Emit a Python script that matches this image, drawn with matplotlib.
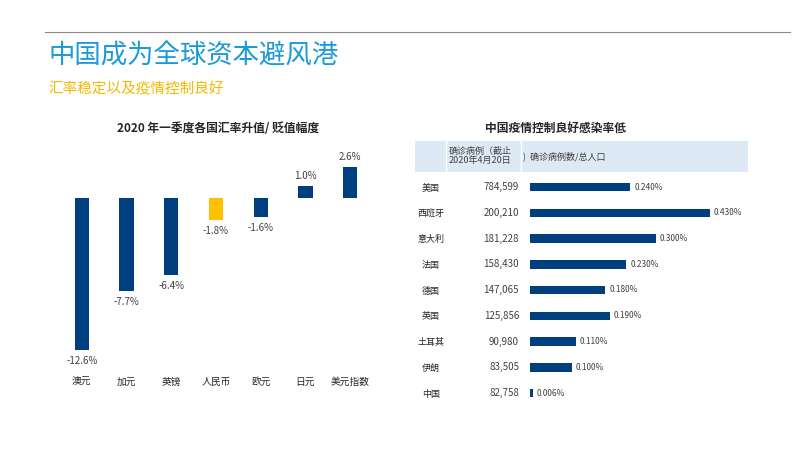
import numpy as np
import matplotlib.pyplot as plt
from matplotlib import font_manager

names = {f.name for f in font_manager.fontManager.ttflist}
cjk = [n for n in ['Noto Sans CJK SC', 'Noto Sans CJK JP', 'Noto Sans CJK TC', 'Noto Sans CJK KR'] if n in names]
plt.rcParams['font.family'] = cjk + ['DejaVu Sans']

# 左图：汇率升值/贬值幅度
currencies = ['澳元', '加元', '英镑', '人民币', '欧元', '日元', '美元指数']
fx_change = [-12.6, -7.7, -6.4, -1.8, -1.6, 1.0, 2.6]

# 右图：确诊病例与感染率
countries = ['美国', '西班牙', '意大利', '法国', '德国', '英国', '土耳其', '伊朗', '中国']
cases = [784599, 200210, 181228, 158430, 147065, 125856, 90980, 83505, 82758]
infect_rate = [0.240, 0.430, 0.300, 0.230, 0.180, 0.190, 0.110, 0.100, 0.006]

W, H = 800, 450
fig = plt.figure(figsize=(8, 4.5), dpi=100)

def fx(px):
    return px / W

def fy(py):
    return 1 - py / H

# 顶部线与标题
fig.add_artist(plt.Line2D([fx(45), fx(790)], [fy(32), fy(32)], color='#888888', lw=0.8))
fig.text(fx(48), fy(56), '中国成为全球资本避风港', fontsize=19, color='#1a9ad6', va='center')
fig.text(fx(48), fy(89), '汇率稳定以及疫情控制良好', fontsize=10.5, color='#f5b800',
         va='center', style='italic')

# 左图
ax = fig.add_axes([fx(55), fy(395), fx(322), fy(155) - fy(395)])
colors = ['#ffc000' if c == '人民币' else '#003f7f' for c in currencies]
x = np.arange(len(currencies))
ax.bar(x, fx_change, width=0.32, color=colors)
for xi, v in zip(x, fx_change):
    off = 0.4 if v > 0 else -0.5
    ax.text(xi, v + off, f'{v:.1f}%', ha='center', va='bottom' if v > 0 else 'top',
            fontsize=7, color='#404040')
ax.set_ylim(-16.3, 3.57)
ax.set_xlim(-0.6, len(currencies) - 0.4)
ax.set_xticks([])
ax.set_yticks([])
for s in ax.spines.values():
    s.set_visible(False)
for xi, c in zip(x, currencies):
    ax.text(xi, -15.2, c, ha='center', va='center', fontsize=7, color='#262626')
fig.text(fx(218), fy(128), '2020 年一季度各国汇率升值/ 贬值幅度', fontsize=8.5,
         fontweight='bold', style='italic', color='#262626', ha='center', va='center')

# 右图
ax2 = fig.add_axes([fx(415), fy(405), fx(748) - fx(415), fy(141) - fy(405)])
ax2.set_xlim(415, 748)
ax2.set_ylim(405, 141)
ax2.axis('off')
ax2.add_patch(plt.Rectangle((415, 141), 333, 31, color='#ddeaf5', lw=0))
ax2.plot([446, 446], [141, 172], color='white', lw=1)
ax2.plot([521, 521], [141, 172], color='white', lw=1)
ax2.text(449, 156, '确诊病例（截止\n2020年4月20日', fontsize=6.5, va='center', color='#404040',
         linespacing=1.1)
ax2.text(523, 156, ')  确诊病例数/总人口', fontsize=6.5, va='center', color='#404040')
fig.text(fx(555), fy(128), '中国疫情控制良好感染率低', fontsize=8.5, fontweight='bold',
         style='italic', color='#262626', ha='center', va='center')

rows = np.linspace(187, 393, len(countries))
scale = 180 / 0.43
ax2.barh(rows, np.array(infect_rate) * scale, left=530, height=8.5, color='#003f7f')
for r, c, n, v in zip(rows, countries, cases, infect_rate):
    ax2.text(431, r + 1, c, ha='center', va='center', fontsize=6.5, color='#262626')
    ax2.text(519, r, f'{n:,}', ha='right', va='center', fontsize=7, color='#404040')
    ax2.text(530 + v * scale + 4, r, f'{v:.3f}%', ha='left', va='center', fontsize=6,
             color='#404040')

fig.savefig('out.png', dpi=100)
